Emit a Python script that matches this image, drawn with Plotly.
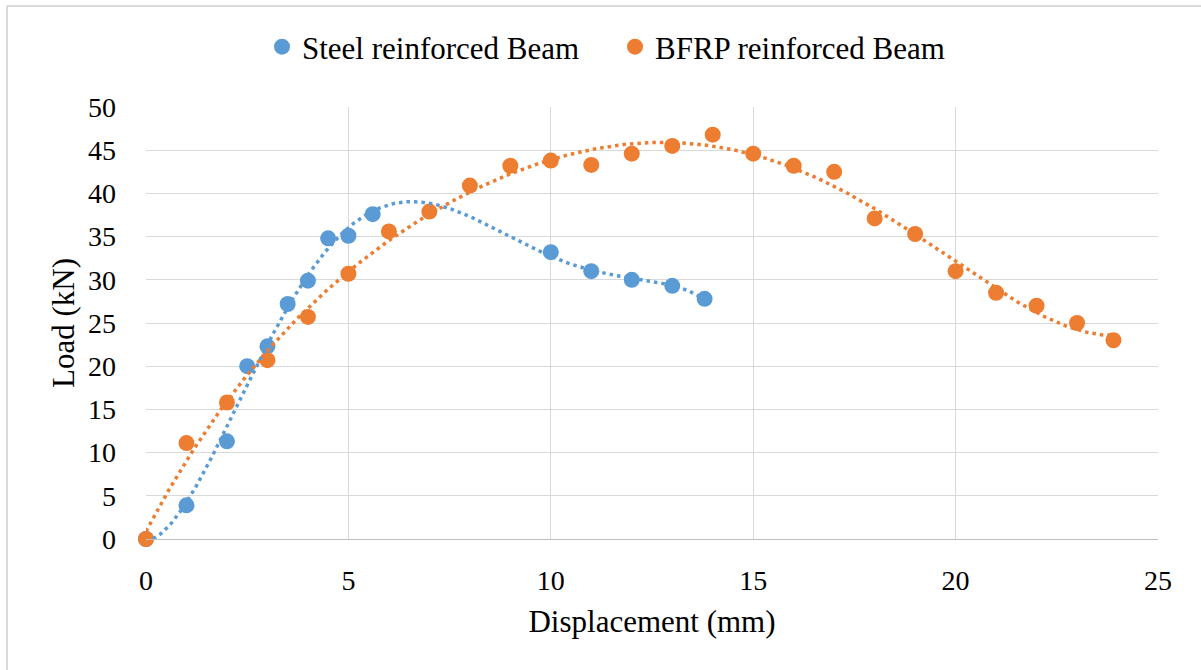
import numpy as np
import plotly.graph_objects as go

# Data
steel_x = [0, 1, 2, 2.5, 3, 3.5, 4, 4.5, 5, 5.6, 10, 11, 12, 13, 13.8]
steel_y = [0, 3.9, 11.3, 20.0, 22.3, 27.2, 29.9, 34.8, 35.1, 37.6, 33.2, 31.0, 30.0, 29.3, 27.8]

bfrp_x = [0, 1, 2, 3, 4, 5, 6, 7, 8, 9, 10, 11, 12, 13, 14, 15, 16, 17, 18, 19, 20, 21, 22, 23, 23.9]
bfrp_y = [0, 11.1, 15.8, 20.7, 25.7, 30.7, 35.6, 37.9, 40.9, 43.2, 43.8, 43.3, 44.6, 45.5, 46.8,
          44.6, 43.2, 42.5, 37.1, 35.3, 31.0, 28.5, 27.0, 25.0, 23.0]

x_ticks = [0, 5, 10, 15, 20, 25]
y_ticks = [0, 5, 10, 15, 20, 25, 30, 35, 40, 45, 50]

# polynomial trendline orders (as in the spreadsheet trendlines)
STEEL_ORDER = 5
BFRP_ORDER = 6

BLUE = "#5B9BD5"
ORANGE = "#ED7D31"
FONT = "Times New Roman, Liberation Serif, serif"


def trend(xs, ys, order):
    coeffs = np.polyfit(xs, ys, order)
    xx = np.linspace(min(xs), max(xs), 400)
    return xx, np.polyval(coeffs, xx)


fig = go.Figure()

fig.add_trace(go.Scatter(x=steel_x, y=steel_y, mode="markers", name="Steel reinforced Beam",
                         marker=dict(color=BLUE, size=16), cliponaxis=False))
fig.add_trace(go.Scatter(x=bfrp_x, y=bfrp_y, mode="markers", name="BFRP reinforced Beam",
                         marker=dict(color=ORANGE, size=16), cliponaxis=False))

sx, sy = trend(steel_x, steel_y, STEEL_ORDER)
bx, by = trend(bfrp_x, bfrp_y, BFRP_ORDER)
fig.add_trace(go.Scatter(x=sx, y=sy, mode="lines", showlegend=False, hoverinfo="skip",
                         line=dict(color=BLUE, width=3.5, dash="3.5px,4px")))
fig.add_trace(go.Scatter(x=bx, y=by, mode="lines", showlegend=False, hoverinfo="skip",
                         line=dict(color=ORANGE, width=3.5, dash="3.5px,4px")))

W, H = 1201, 670
L, R, T, B = 146, 43, 107, 131
pw, ph = W - L - R, H - T - B


def px_x(v):
    return (v - L) / pw


def px_y(v):
    return (H - B - v) / ph


fig.update_layout(
    width=W, height=H,
    margin=dict(l=L, r=R, t=T, b=B),
    paper_bgcolor="white", plot_bgcolor="white",
    font=dict(family=FONT, size=28, color="#000000"),
    legend=dict(orientation="h", xref="container", yref="container", x=262 / W, xanchor="left",
                y=1 - 47 / H, yanchor="middle", entrywidth=308, entrywidthmode="pixels",
                font=dict(family=FONT, size=31, color="#000000")),
    xaxis=dict(range=[0, 25], tickvals=x_ticks, showgrid=True, gridcolor="#D9D9D9", gridwidth=1,
               zeroline=False, showline=True, linecolor="#BFBFBF", linewidth=1, automargin=False,
               ticks="", ticklabelstandoff=16,
               tickfont=dict(family=FONT, size=28, color="#000000"),
               title=dict(text="Displacement (mm)", font=dict(family=FONT, size=31, color="#000000"),
                          standoff=15)),
    yaxis=dict(range=[0, 50], tickvals=y_ticks, showgrid=True, gridcolor="#D9D9D9", gridwidth=1,
               zeroline=False, showline=False, automargin=False,
               ticks="", ticklabelstandoff=29,
               tickfont=dict(family=FONT, size=28, color="#000000"),
               title=dict(text="Load (kN)", font=dict(family=FONT, size=31, color="#000000"),
                          standoff=4)),
)

# outer chart frame (only top and left edges are visible in the crop)
fig.add_shape(type="line", xref="paper", yref="paper", x0=px_x(7), x1=px_x(W + 5),
              y0=px_y(6), y1=px_y(6), line=dict(color="#D9D9D9", width=2))
fig.add_shape(type="line", xref="paper", yref="paper", x0=px_x(7), x1=px_x(7),
              y0=px_y(6), y1=px_y(H + 5), line=dict(color="#D9D9D9", width=2))

fig.write_html("out.html", config={"displayModeBar": False},
               post_script="document.body.style.margin='0';")
